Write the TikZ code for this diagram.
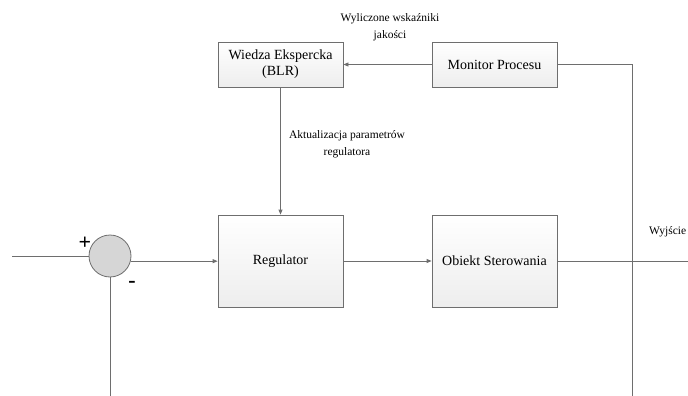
\documentclass[tikz,border=0pt]{standalone}
\usepackage{fontspec}
\setmainfont{Liberation Serif}
\usetikzlibrary{arrows.meta}
\definecolor{linec}{HTML}{6E6E6E}
\tikzset{
  blk/.style={draw=linec, line width=0.8pt, top color=white, bottom color=gray!14, minimum width=125pt, inner sep=0pt, align=center, font=\fontsize{14}{16}\selectfont},
  conn/.style={draw=linec, line width=0.8pt},
  arr/.style={conn, -{Triangle[length=5pt,width=4pt]}},
  lbl/.style={align=center, font=\fontsize{11.5}{16.5}\selectfont, inner sep=0pt},
  sign/.style={font=\fontsize{22}{22}\selectfont\bfseries, inner sep=0pt}
}
\begin{document}
\begin{tikzpicture}[x=1pt,y=-1pt]
\useasboundingbox (0,0) rectangle (688,396);
\node[blk, minimum height=45pt] (wiedza) at (280.5,64.5) {Wiedza Ekspercka\\(BLR)};
\node[blk, minimum height=45pt] (monitor) at (494.5,64.5) {Monitor Procesu};
\node[blk, minimum height=92pt] (reg) at (280.5,261) {Regulator};
\node[blk, minimum height=92pt] (obj) at (494.5,261) {Obiekt Sterowania};
\node[circle, draw=linec, line width=0.8pt, fill=gray!32, minimum size=42pt, inner sep=0pt] (sum) at (110,256) {};
\node[lbl] (l1) at (390,27) {Wyliczone wskaźniki\\jakości};
\node[lbl] (l2) at (347,144) {Aktualizacja parametrów\\regulatora};
\node[lbl, anchor=west] (l3) at (649,232) {Wyjście};
\node[sign] (plus) at (85,243) {+};
\node[sign] (minus) at (132,284) {-};
\coordinate (in) at (12,256);
\coordinate (fbot) at (110,396);
\coordinate (mcorner) at (632,64.5);
\coordinate (mbot) at (632,396);
\coordinate (out) at (688,261);
\draw[conn] (in) -- (sum.west);
\draw[arr] (sum.-14) -- (reg.west |- sum.-14);
\draw[arr] (reg) -- (obj);
\draw[conn] (obj.east) -- (out);
\draw[conn] (sum.south) -- (fbot);
\draw[arr] (monitor) -- (wiedza);
\draw[conn] (monitor.east) -- (mcorner) -- (mbot);
\draw[arr] (wiedza.south) -- (reg.north);
\end{tikzpicture}
\end{document}
